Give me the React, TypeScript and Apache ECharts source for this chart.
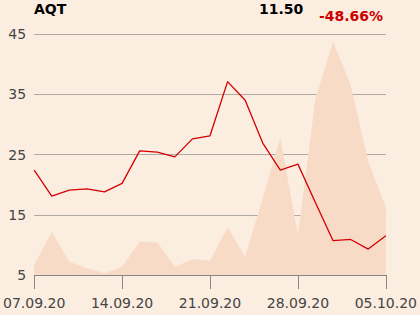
import React, { useEffect, useRef } from "react";
import * as echarts from "echarts";

const dates = [
  "07.09.20", "08.09.20", "09.09.20", "10.09.20", "11.09.20",
  "14.09.20", "15.09.20", "16.09.20", "17.09.20", "18.09.20",
  "21.09.20", "22.09.20", "23.09.20", "24.09.20", "25.09.20",
  "28.09.20", "29.09.20", "30.09.20", "01.10.20", "02.10.20",
  "05.10.20",
];
const prices = [
  22.4, 18.1, 19.1, 19.3, 18.8,
  20.2, 25.6, 25.4, 24.6, 27.6,
  28.1, 37.1, 34.0, 26.9, 22.4,
  23.4, 17.0, 10.7, 10.9, 9.3,
  11.5,
];
const volumes = [
  100, 433, 133, 67, 17,
  83, 333, 327, 83, 157,
  143, 477, 183, 770, 1377,
  400, 1767, 2333, 1900, 1133,
  680,
];
const symbol = "AQT";
const lastPrice = "11.50";
const change = "-48.66%";
const yTicks = { min: 5, max: 45, interval: 10 };
const volumeMax = 2410;

export default function App() {
  const ref = useRef<HTMLDivElement>(null);
  useEffect(() => {
    if (!ref.current) return;
    const chart = echarts.init(ref.current, null, { renderer: "svg" });
    chart.setOption({
      animation: false,
      backgroundColor: "#FCEDE1",
      textStyle: { fontFamily: "DejaVu Sans" },
      grid: { left: 34, right: 34, top: 34, bottom: 40 },
      graphic: [
        {
          type: "text", left: 34, top: 2,
          style: { text: symbol, font: "bold 14px 'DejaVu Sans'", fill: "#000" },
        },
        {
          type: "text", left: 259, top: 2,
          style: { text: lastPrice, font: "bold 14px 'DejaVu Sans'", fill: "#000" },
        },
        {
          type: "text", left: 319, top: 9,
          style: { text: change, font: "bold 14px 'DejaVu Sans'", fill: "#CC0000" },
        },
      ],
      xAxis: {
        type: "category",
        data: dates,
        boundaryGap: false,
        axisLine: { lineStyle: { color: "#8A8580", width: 1 } },
        axisTick: { interval: 4, length: 14, lineStyle: { color: "#8A8580" } },
        axisLabel: { interval: 4, color: "#444", fontSize: 14, margin: 21, fontFamily: "DejaVu Sans" },
        splitLine: { show: false },
      },
      yAxis: [
        {
          type: "value",
          min: yTicks.min, max: yTicks.max, interval: yTicks.interval,
          axisLine: { show: false },
          axisTick: { show: false },
          axisLabel: { color: "#444", fontSize: 14, margin: 8, fontFamily: "DejaVu Sans" },
          splitLine: { lineStyle: { color: "#B0AAA5", width: 1 } },
        },
        {
          type: "value", min: 0, max: volumeMax, show: false,
          splitLine: { show: false },
        },
      ],
      series: [
        {
          type: "line",
          yAxisIndex: 1,
          data: volumes,
          symbol: "none",
          lineStyle: { width: 0 },
          areaStyle: { color: "#F8DBC6", opacity: 1 },
          z: 1,
        },
        {
          type: "line",
          yAxisIndex: 0,
          data: prices,
          symbol: "none",
          lineStyle: { color: "#D40000", width: 1.3 },
          z: 3,
        },
      ],
    });
    return () => chart.dispose();
  }, []);
  return <div ref={ref} style={{ width: 420, height: 315, position: "absolute", left: 0, top: 0 }} />;
}
